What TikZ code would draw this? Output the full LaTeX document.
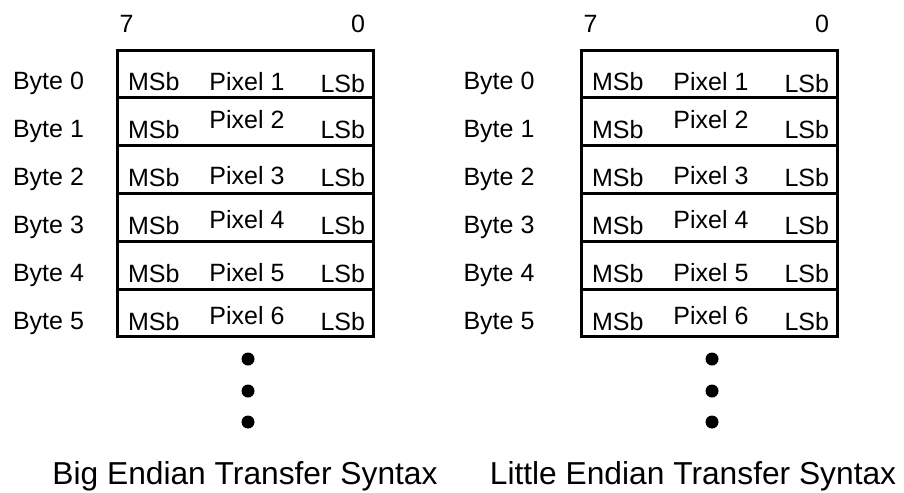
\documentclass[tikz,border=0pt]{standalone}
\usepackage{fontspec}
\setmainfont{Liberation Sans}

\begin{document}
\begin{tikzpicture}[x=0.75pt, y=-0.75pt, line width=2.25pt,
    every node/.style={inner sep=0pt, outer sep=0pt, font=\fontsize{18.75}{22}\selectfont},
    rowbox/.style={draw, anchor=north west, minimum width=192pt, minimum height=35.85pt},
    bigdot/.style={circle, fill, minimum size=9.75pt},
    title/.style={anchor=base, font=\fontsize{23.8}{28}\selectfont}]
    \useasboundingbox (0,0) rectangle (904,493);
    \foreach \p/\sx/\bx/\tx/\ttl in {big/0/48.5/245/Big Endian Transfer Syntax,
                                     little/464/499/693/Little Endian Transfer Syntax} {
        % bit numbers
        \node[anchor=base] (msbit-\p) at (\sx+126.5, 32.5) {7};
        \node[anchor=base] (lsbit-\p) at (\sx+358, 32.5) {0};
        % one row per byte
        \foreach \i/\pdy/\ldy in {0/0/2, 1/-10/0, 2/-2/0, 3/-6/0, 4/-1/0, 5/-6/0} {
            \pgfmathtruncatemacro{\pixnum}{\i+1}
            \node[rowbox] (row-\p-\i) at (\sx+117, 50+47.8*\i) {};
            \node[anchor=base] (byte-\p-\i) at (\bx, 89+48*\i) {Byte \i};
            \node[anchor=base west] (msb-\p-\i) at (\sx+128, 90+48*\i) {MSb};
            \node[anchor=base] (pix-\p-\i) at (\sx+247, 90+48*\i+\pdy) {Pixel \pixnum};
            \node[anchor=base east] (lsb-\p-\i) at (\sx+365, 90+48*\i+\ldy) {LSb};
        }
        % more bytes follow
        \foreach \k/\y in {1/359, 2/391, 3/422}
            \node[bigdot] (dot-\p-\k) at (\sx+248, \y) {};
        \node[title] (title-\p) at (\tx, 484) {\ttl};
    }
\end{tikzpicture}
\end{document}
